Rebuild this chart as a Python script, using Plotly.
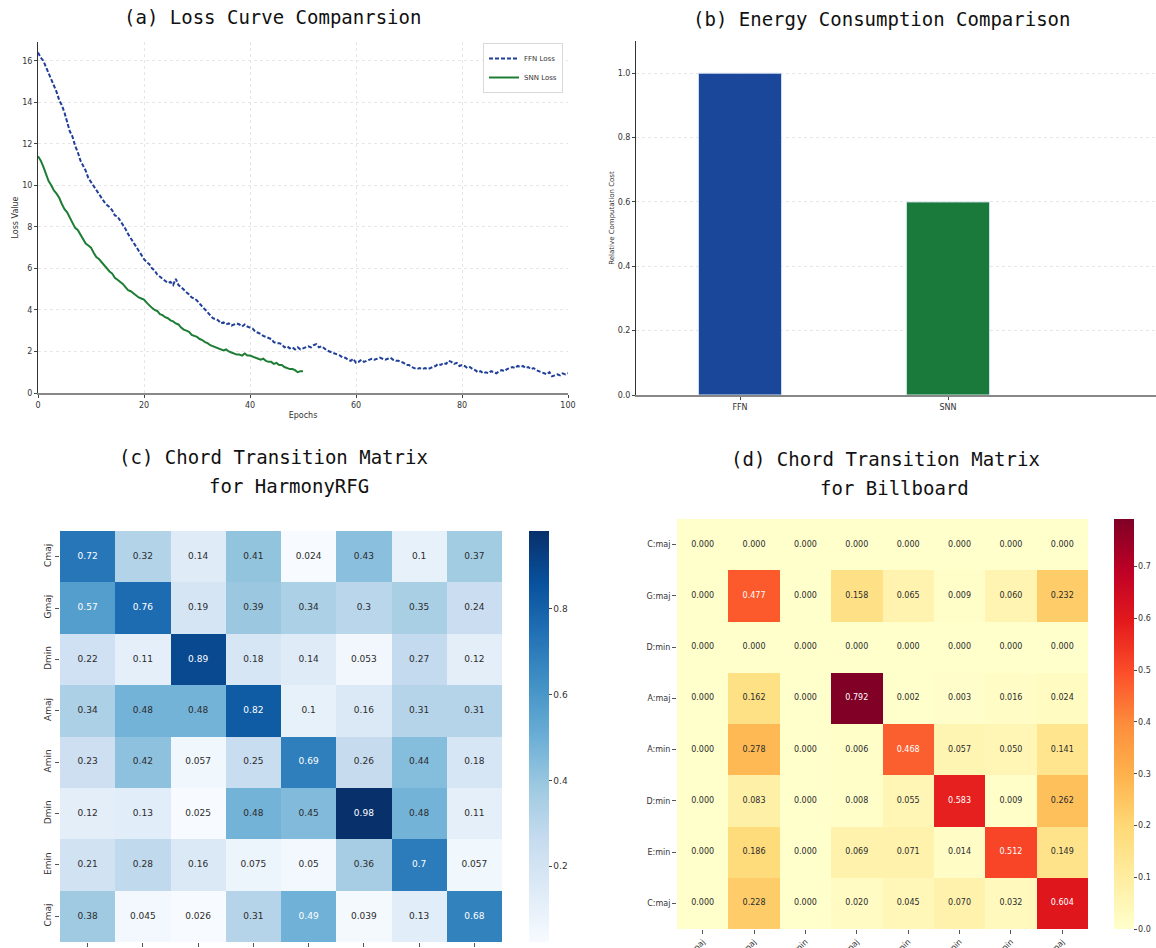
import plotly.graph_objects as go

# ---------------- data ----------------
# (a) training loss, sampled every half epoch
ffn_loss = [
    16.4, 16.15, 16.0, 15.7, 15.35, 15.1, 14.8, 14.5, 14.1, 13.85,
    13.5, 13.05, 12.6, 12.35, 11.9, 11.6, 11.2, 10.95, 10.7, 10.35,
    10.15, 9.95, 9.75, 9.6, 9.4, 9.2, 9.05, 8.95, 8.8, 8.55,
    8.5, 8.3, 8.15, 7.9, 7.65, 7.45, 7.2, 7.0, 6.85, 6.6,
    6.45, 6.3, 6.2, 6.0, 5.9, 5.7, 5.6, 5.5, 5.4, 5.3,
    5.35, 5.2, 5.5, 5.2, 5.1, 4.95, 4.85, 4.75, 4.6, 4.55,
    4.45, 4.3, 4.15, 4.05, 3.9, 3.7, 3.6, 3.55, 3.5, 3.35,
    3.4, 3.3, 3.35, 3.25, 3.3, 3.35, 3.3, 3.2, 3.3, 3.2,
    3.15, 3.1, 2.95, 2.9, 2.85, 2.75, 2.7, 2.65, 2.6, 2.45,
    2.4, 2.4, 2.35, 2.2, 2.25, 2.15, 2.2, 2.1, 2.2, 2.1,
    2.15, 2.2, 2.25, 2.2, 2.3, 2.35, 2.2, 2.25, 2.15, 2.05,
    2.0, 1.95, 1.9, 1.85, 1.8, 1.7, 1.7, 1.6, 1.55, 1.65,
    1.45, 1.5, 1.6, 1.5, 1.55, 1.6, 1.65, 1.6, 1.65, 1.7,
    1.65, 1.6, 1.65, 1.7, 1.6, 1.55, 1.55, 1.5, 1.45, 1.35,
    1.35, 1.25, 1.2, 1.15, 1.2, 1.15, 1.2, 1.15, 1.2, 1.25,
    1.3, 1.4, 1.35, 1.45, 1.4, 1.55, 1.5, 1.4, 1.45, 1.3,
    1.35, 1.3, 1.2, 1.25, 1.15, 1.1, 1.0, 1.05, 0.95, 1.0,
    0.95, 1.05, 1.0, 0.95, 1.05, 1.1, 1.05, 1.15, 1.2, 1.25,
    1.2, 1.3, 1.25, 1.3, 1.2, 1.25, 1.15, 1.2, 1.1, 1.05,
    1.0, 0.95, 0.9, 1.0, 0.8, 0.85, 0.9, 0.85, 0.95, 0.9,
    0.95,
]
snn_loss = [
    11.4, 11.2, 10.9, 10.55, 10.2, 10.0, 9.75, 9.6, 9.4, 9.1,
    8.85, 8.7, 8.45, 8.2, 7.95, 7.85, 7.65, 7.4, 7.2, 7.1,
    7.0, 6.75, 6.55, 6.45, 6.3, 6.1, 5.95, 5.85, 5.75, 5.55,
    5.45, 5.35, 5.25, 5.1, 4.95, 4.9, 4.8, 4.7, 4.6, 4.55,
    4.5, 4.35, 4.2, 4.1, 4.0, 3.95, 3.8, 3.75, 3.65, 3.6,
    3.5, 3.45, 3.35, 3.3, 3.15, 3.05, 3.0, 2.95, 2.8, 2.75,
    2.7, 2.6, 2.55, 2.45, 2.4, 2.3, 2.25, 2.2, 2.15, 2.1,
    2.05, 2.1, 2.0, 1.95, 1.9, 1.85, 1.85, 1.8, 1.9, 1.8,
    1.8, 1.75, 1.7, 1.65, 1.6, 1.65, 1.55, 1.5, 1.5, 1.4,
    1.45, 1.35, 1.35, 1.25, 1.2, 1.15, 1.15, 1.1, 1.0, 1.05,
    1.05,
]
ffn_epochs = [i * 0.5 for i in range(len(ffn_loss))]
snn_epochs = [i * 0.5 for i in range(len(snn_loss))]

# (b) relative computation cost
models = ["FFN", "SNN"]
relative_cost = [1.0, 0.6]

# (c) chord transition matrix, HarmonyRFG
harmony_chords = ["Cmaj", "Gmaj", "Dmin", "Amaj", "Amin", "Dmin", "Emin", "Cmaj"]
harmony_matrix = [
    [0.72, 0.32, 0.14, 0.41, 0.024, 0.43, 0.1, 0.37],
    [0.57, 0.76, 0.19, 0.39, 0.34, 0.3, 0.35, 0.24],
    [0.22, 0.11, 0.89, 0.18, 0.14, 0.053, 0.27, 0.12],
    [0.34, 0.48, 0.48, 0.82, 0.1, 0.16, 0.31, 0.31],
    [0.23, 0.42, 0.057, 0.25, 0.69, 0.26, 0.44, 0.18],
    [0.12, 0.13, 0.025, 0.48, 0.45, 0.98, 0.48, 0.11],
    [0.21, 0.28, 0.16, 0.075, 0.05, 0.36, 0.7, 0.057],
    [0.38, 0.045, 0.026, 0.31, 0.49, 0.039, 0.13, 0.68],
]

# (d) chord transition matrix, Billboard
billboard_chords = ["C:maj", "G:maj", "D:min", "A:maj", "A:min", "D:min", "E:min", "C:maj"]
billboard_matrix = [
    [0.000, 0.000, 0.000, 0.000, 0.000, 0.000, 0.000, 0.000],
    [0.000, 0.477, 0.000, 0.158, 0.065, 0.009, 0.060, 0.232],
    [0.000, 0.000, 0.000, 0.000, 0.000, 0.000, 0.000, 0.000],
    [0.000, 0.162, 0.000, 0.792, 0.002, 0.003, 0.016, 0.024],
    [0.000, 0.278, 0.000, 0.006, 0.468, 0.057, 0.050, 0.141],
    [0.000, 0.083, 0.000, 0.008, 0.055, 0.583, 0.009, 0.262],
    [0.000, 0.186, 0.000, 0.069, 0.071, 0.014, 0.512, 0.149],
    [0.000, 0.228, 0.000, 0.020, 0.045, 0.070, 0.032, 0.604],
]

# ---------------- figure ----------------
W, H = 1156, 948
TITLE_FONT = "DejaVu Sans Mono"
TICK_FONT = "DejaVu Sans"


def px_x(p):
    return p / W


def px_y(p):
    return 1 - p / H


fig = go.Figure()

# (a) loss curves
fig.add_trace(go.Scatter(
    x=ffn_epochs, y=ffn_loss, mode="lines", name="FFN Loss",
    line=dict(color="#1f3f9a", width=2, dash="4px,2px"),
    xaxis="x", yaxis="y",
))
fig.add_trace(go.Scatter(
    x=snn_epochs, y=snn_loss, mode="lines", name="SNN Loss",
    line=dict(color="#1e7d34", width=2),
    xaxis="x", yaxis="y",
))

# (b) energy bars
fig.add_trace(go.Bar(
    x=models, y=relative_cost, width=0.4,
    marker=dict(color=["#1b479b", "#1a7a3b"], line=dict(color="#d8e4f0", width=1)),
    showlegend=False, xaxis="x2", yaxis="y2",
))


def annotated_heatmap(matrix, colorscale, fmt, light_above, axis_id, cbar):
    n = len(matrix)
    idx = list(range(n))
    zs = [v for row in matrix for v in row]
    fig.add_trace(go.Heatmap(
        z=matrix, x=idx, y=idx, colorscale=colorscale,
        zmin=min(zs), zmax=max(zs), showscale=True, colorbar=cbar,
        xaxis="x" + axis_id, yaxis="y" + axis_id, hoverinfo="z",
    ))
    tx, ty, tt, tc = [], [], [], []
    for r, row in enumerate(matrix):
        for c, v in enumerate(row):
            tx.append(c)
            ty.append(r)
            tt.append(format(v, fmt))
            tc.append("#ffffff" if v > light_above else "#2b2b2b")
    fig.add_trace(go.Scatter(
        x=tx, y=ty, text=tt, mode="text",
        textfont=dict(color=tc, size=cbar["tickfont"]["size"], family=TICK_FONT),
        showlegend=False, hoverinfo="skip",
        xaxis="x" + axis_id, yaxis="y" + axis_id,
    ))


annotated_heatmap(
    harmony_matrix, "Blues", ".2g", 0.485, "3",
    dict(x=px_x(529), xanchor="left", thickness=20, lenmode="fraction",
         len=(942 - 531) / H, y=px_y(942), yanchor="bottom", xpad=0, ypad=0,
         tickvals=[0.2, 0.4, 0.6, 0.8], ticks="outside", ticklen=3,
         tickfont=dict(size=9, family=TICK_FONT, color="#333"), outlinewidth=0),
)
annotated_heatmap(
    billboard_matrix, "YlOrRd", ".3f", 0.4, "4",
    dict(x=px_x(1114), xanchor="left", thickness=20, lenmode="fraction",
         len=(929 - 519) / H, y=px_y(929), yanchor="bottom", xpad=0, ypad=0,
         tickvals=[0.0, 0.1, 0.2, 0.3, 0.4, 0.5, 0.6, 0.7], tickformat=".1f",
         ticks="outside", ticklen=3,
         tickfont=dict(size=8, family=TICK_FONT, color="#333"), outlinewidth=0),
)

tick_font = dict(family=TICK_FONT, size=8, color="#333")
grid = dict(showgrid=True, gridcolor="#e6e6e6", griddash="dot", gridwidth=1)
common = dict(automargin=False, zeroline=False)

fig.update_layout(
    template="none",
    width=W, height=H,
    margin=dict(l=0, r=0, t=0, b=0, pad=0),
    paper_bgcolor="white", plot_bgcolor="white",
    font=dict(family=TICK_FONT, color="#333"),
    legend=dict(
        x=px_x(563), y=px_y(43), xanchor="right", yanchor="top",
        bordercolor="#d9d9d9", borderwidth=1, bgcolor="rgba(255,255,255,0.9)",
        font=dict(size=7, family=TICK_FONT), itemwidth=30,
    ),
    # (a)
    xaxis=dict(domain=[px_x(38), px_x(568)], range=[0, 100], anchor="y",
               tickvals=[0, 20, 40, 60, 80, 100], ticks="outside", ticklen=3,
               tickfont=tick_font, showline=True, linecolor="#888", linewidth=2,
               title=dict(text="Epochs", font=dict(size=8), standoff=4),
               **grid, **common),
    yaxis=dict(domain=[px_y(393), px_y(42)], range=[0, 16.9], anchor="x",
               tickvals=list(range(0, 17, 2)), ticks="outside", ticklen=3,
               tickfont=tick_font, showline=True, linecolor="#333", linewidth=1,
               title=dict(text="Loss Value", font=dict(size=8), standoff=2),
               **grid, **common),
    # (b)
    xaxis2=dict(domain=[px_x(636), 1.0], range=[-0.5, 2.0], anchor="y2",
                ticks="outside", ticklen=3, tickfont=tick_font, showline=True,
                linecolor="#888", linewidth=2, showgrid=False, **common),
    yaxis2=dict(domain=[px_y(395), px_y(41)], range=[0, 1.1], anchor="x2",
                tickvals=[0, 0.2, 0.4, 0.6, 0.8, 1.0], tickformat=".1f",
                ticks="outside", ticklen=3, tickfont=tick_font, showline=True,
                linecolor="#333", linewidth=1,
                title=dict(text="Relative Computation Cost", font=dict(size=7), standoff=2),
                **grid, **common),
    # (c) -- column labels sit below the page edge, only the tick marks show
    xaxis3=dict(domain=[px_x(60), px_x(502)], range=[-0.5, 7.5], anchor="y3",
                tickvals=list(range(8)), showticklabels=False,
                ticks="outside", ticklen=4, tickcolor="#555",
                showgrid=False, showline=False, **common),
    yaxis3=dict(domain=[px_y(942), px_y(531)], range=[7.5, -0.5], anchor="x3",
                tickvals=list(range(8)), ticktext=harmony_chords, tickangle=-90,
                ticks="outside", ticklen=4, tickcolor="#555", tickfont=dict(size=9),
                showgrid=False, showline=False, **common),
    # (d)
    xaxis4=dict(domain=[px_x(677), px_x(1088)], range=[-0.5, 7.5], anchor="y4",
                tickvals=list(range(8)), ticktext=billboard_chords, tickangle=-45,
                ticks="outside", ticklen=4, tickcolor="#555", tickfont=dict(size=8),
                showgrid=False, showline=False, **common),
    yaxis4=dict(domain=[px_y(929), px_y(519)], range=[7.5, -0.5], anchor="x4",
                tickvals=list(range(8)), ticktext=billboard_chords,
                ticks="outside", ticklen=4, tickcolor="#555", tickfont=dict(size=8),
                showgrid=False, showline=False, **common),
)

titles = [
    ("(a) Loss Curve Companrsion", 272, 17),
    ("(b) Energy Consumption Comparison", 882, 19),
    ("(c) Chord Transition Matrix", 273, 457),
    ("for HarmonyRFG", 289, 486),
    ("(d) Chord Transition Matrix", 885, 459),
    ("for Billboard", 894, 488),
]
for text, cx, cy in titles:
    fig.add_annotation(
        text=text, x=px_x(cx), y=px_y(cy), xref="paper", yref="paper",
        xanchor="center", yanchor="middle", showarrow=False,
        font=dict(family=TITLE_FONT, size=19, color="#111"),
    )

fig.write_html("out.html")
